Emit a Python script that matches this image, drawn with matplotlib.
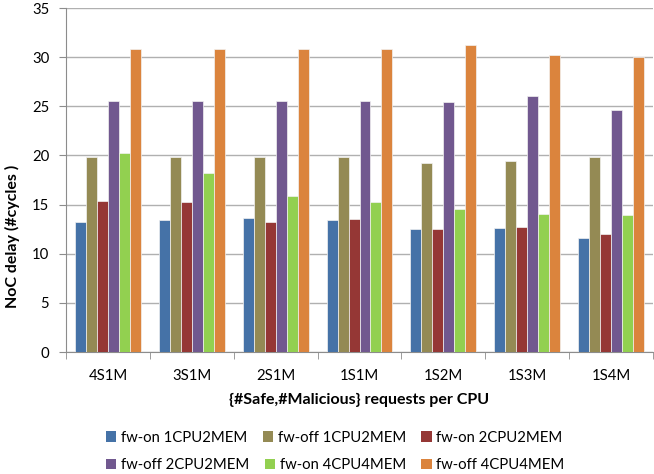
import numpy as np
import matplotlib
matplotlib.use("Agg")
import matplotlib.pyplot as plt
from matplotlib.patches import Patch

plt.rcParams["font.family"] = ["Lato", "DejaVu Sans"]

groups = ["4S1M", "3S1M", "2S1M", "1S1M", "1S2M", "1S3M", "1S4M"]
series = ["fw-on 1CPU2MEM", "fw-off 1CPU2MEM", "fw-on 2CPU2MEM",
          "fw-off 2CPU2MEM", "fw-on 4CPU4MEM", "fw-off 4CPU4MEM"]
on_1cpu2mem = [13.2, 13.4, 13.6, 13.4, 12.5, 12.6, 11.6]
off_1cpu2mem = [19.8, 19.8, 19.8, 19.8, 19.2, 19.4, 19.8]
on_2cpu2mem = [15.4, 15.3, 13.2, 13.5, 12.5, 12.7, 12.0]
off_2cpu2mem = [25.5, 25.5, 25.5, 25.5, 25.4, 26.0, 24.6]
on_4cpu4mem = [20.2, 18.2, 15.9, 15.3, 14.5, 14.0, 13.9]
off_4cpu4mem = [30.8, 30.8, 30.8, 30.8, 31.2, 30.2, 30.0]
values = [on_1cpu2mem, off_1cpu2mem, on_2cpu2mem, off_2cpu2mem, on_4cpu4mem, off_4cpu4mem]
colors = ["#4572A7", "#948A54", "#953735", "#71588F", "#92D050", "#DB843D"]

fig = plt.figure(figsize=(6.54, 4.74), dpi=100)
ax = fig.add_axes([66/654, 1 - 352/474, 587/654, 344/474])

x = np.arange(len(groups))
w = 0.131
for i, (vals, c) in enumerate(zip(values, colors)):
    ax.bar(x + (i - 2.5) * w, vals, width=w, color=c, edgecolor="#f2f2f2",
           linewidth=0.5, zorder=3)

ax.set_xlim(-0.5, len(groups) - 0.5)
ax.set_ylim(0, 35)
ax.set_yticks(np.arange(0, 36, 5))
ax.yaxis.grid(True, color="#b0b0b0", linewidth=1.0, zorder=0)
ax.set_axisbelow(True)

ax.set_xticks(x)
ax.set_xticklabels(groups)
ax.set_xticks(np.arange(-0.5, len(groups)), minor=True)
ax.tick_params(axis="x", which="major", length=0, pad=12, labelsize=10.7)
ax.tick_params(axis="x", which="minor", length=5, color="#8c8c8c", direction="out")
ax.tick_params(axis="y", length=5, color="#8c8c8c", labelsize=10.7, pad=7)

for s in ["top", "right"]:
    ax.spines[s].set_visible(False)
for s in ["left", "bottom"]:
    ax.spines[s].set_color("#8c8c8c")

ax.set_ylabel("NoC delay (#cycles )", fontsize=11.5, fontweight="bold")
ax.yaxis.set_label_coords((20 - 66) / 587, (352 - 236.5) / 344)
ax.set_xlabel("{#Safe,#Malicious} requests per CPU", fontsize=11.5,
              fontweight="bold")
ax.xaxis.set_label_coords(0.5, (352 - 393) / 344)

handles = [Patch(facecolor=c, label=s) for s, c in zip(series, colors)]
leg_kw = dict(ncol=3, frameon=False, fontsize=10.7, handlelength=0.7,
              handleheight=0.7, handletextpad=0.3, columnspacing=1.05,
              borderpad=0, borderaxespad=0, loc="center left")
fig.legend(handles=handles[:3], bbox_to_anchor=(106/654, 1 - 437.5/474), **leg_kw)
fig.legend(handles=handles[3:], bbox_to_anchor=(106/654, 1 - 465/474), **leg_kw)

fig.savefig("out.png", dpi=100)
